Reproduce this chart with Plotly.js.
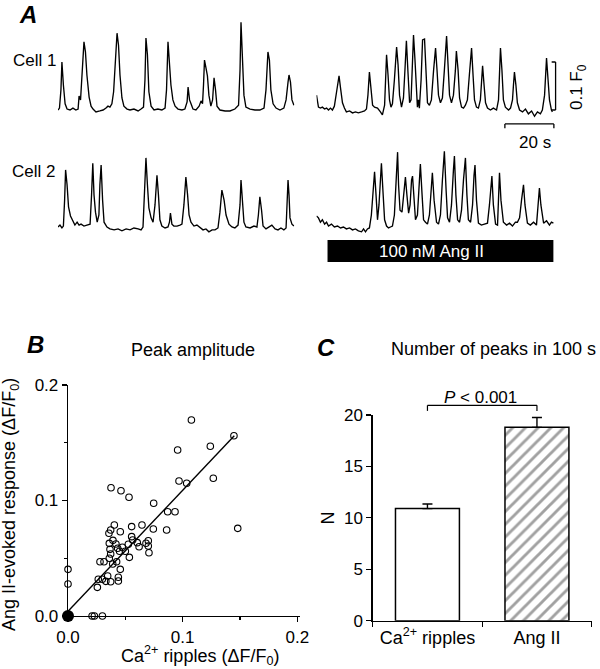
<!DOCTYPE html>
<html><head><meta charset="utf-8">
<script src="https://cdn.plot.ly/plotly-3.0.1.min.js"></script>
<style>html,body{margin:0;padding:0;background:#fff}#chart{width:600px;height:669px}</style>
</head><body><div id="chart"></div>
<script>
// ---------- Panel A: Ca2+ traces (time in s, value in ΔF/F0) ----------
const cell1CtrlT = [0,0.6,1.2,1.6,2.2,2.9,3.7,4.9,6.1,7.3,8.2,8.6,9.2,9.6,10.0,10.6,11.2,11.8,12.7,13.5,14.3,15.5,17.1,18.4,19.6,20.4,21.2,22.0,22.7,23.3,24.1,24.7,25.3,26.1,26.9,28.2,29.4,31.0,32.7,33.9,34.9,35.5,35.9,36.5,37.1,38.0,39.2,40.8,42.4,43.7,44.3,44.9,45.5,46.1,46.9,47.8,49.0,50.6,51.8,52.7,53.1,53.7,54.3,55.1,56.3,57.6,58.4,59.0,59.4,59.8,60.4,61.0,61.6,62.4,63.1,63.7,64.3,64.9,66.1,68.2,70.2,72.2,73.7,74.3,74.7,75.3,75.9,76.7,78.4,80.4,82.4,84.1,84.9,85.7,86.3,86.9,87.8,89.0,90.6,92.2,93.1,93.9,94.3,94.9,95.5,96.3];
const cell1CtrlV = [0,0.004,0.042,0.100,0.052,0.013,0.002,0,0.004,0,0.002,0.029,0.021,0.063,0.083,0.142,0.121,0.073,0.027,0.008,0.002,-0.004,-0.002,0,0.004,0.008,0.006,0.013,0.038,0.083,0.160,0.135,0.073,0.025,0.008,0.002,0,0.002,-0.002,0.002,0.006,0.063,0.150,0.115,0.038,0.008,0,0.002,0,0.004,0.042,0.142,0.104,0.052,0.021,0.008,0.002,0,0.002,0.017,0.048,0.021,0.013,0.002,0,0.008,0.019,0.013,0.052,0.104,0.088,0.071,0.031,0.008,0.021,0.067,0.042,0.008,0,-0.002,-0.002,0.002,0.010,0.083,0.183,0.115,0.031,0.006,0.002,0,0,0.004,0.042,0.121,0.104,0.042,0.013,0.004,0,0.004,0.021,0.058,0.073,0.058,0.021,0.010];

const cell1AngT = [0,0.4,0.8,1.6,2.4,3.3,4.1,4.9,5.7,6.5,7.3,8.2,8.8,9.2,9.8,10.6,11.4,12.2,13.5,14.7,15.9,17.1,18.4,19.6,20.4,21.0,21.6,22.2,22.9,23.7,24.9,26.1,26.9,27.8,28.2,28.6,29.2,29.8,30.4,31.0,31.8,32.2,32.7,33.3,33.9,34.7,35.5,36.1,36.7,37.3,38.0,38.6,39.2,39.6,40.2,40.8,41.2,41.6,42.0,42.7,43.3,44.1,44.5,45.3,46.1,46.9,47.8,48.6,49.2,49.8,50.6,51.4,52.2,53.1,53.7,54.3,55.1,55.9,56.7,57.1,57.8,58.4,59.2,60.0,60.8,61.6,62.4,63.3,63.9,64.5,65.3,66.1,66.9,67.3,67.8,68.4,69.0,69.8,71.0,72.2,73.5,74.3,74.7,75.1,75.7,76.3,77.1,78.4,79.2,80.0,80.4,80.8,81.4,82.0,82.9,84.1,85.3,86.5,87.8,89.0,90.2,91.4,92.2,93.1,93.9,94.5,95.1,95.9,96.3];
const cell1AngV = [0.031,0.021,0.006,0.004,0.006,0.002,0.004,0,0.004,0,0.008,0.038,0.063,0.071,0.046,0.015,0.004,-0.004,-0.002,-0.006,-0.004,-0.006,-0.004,-0.002,0.002,0.031,0.079,0.046,0.010,0.006,0.004,-0.004,-0.010,0.010,0.063,0.115,0.073,0.021,0.006,0.013,0.063,0.104,0.131,0.094,0.031,0.006,0.025,0.083,0.144,0.083,0.015,0.021,0.104,0.156,0.104,0.031,0.006,0.021,0.004,0.063,0.146,0.148,0.104,0.015,0.010,0.021,0.083,0.129,0.083,0.031,0.015,0.025,0.083,0.154,0.094,0.031,0.015,0.031,0.083,0.123,0.083,0.025,0.006,0.004,0.010,0.021,0.073,0.129,0.073,0.021,0.006,0.004,0.021,0.063,0.092,0.052,0.015,0.004,0,0.004,0,0.021,0.073,0.129,0.083,0.021,0.006,0,0.004,0.021,0.052,0.079,0.052,0.015,0,-0.004,0.002,-0.008,-0.002,-0.013,-0.004,-0.008,0,0.031,0.108,0.073,0.021,0,-0.004];

const cell2CtrlT = [0,0.8,1.6,2.2,2.7,3.1,3.7,4.3,5.1,5.9,6.9,7.8,8.6,9.4,10.6,11.8,13.1,13.7,14.2,14.7,15.3,16.0,16.7,17.1,17.6,18.2,18.8,20.0,21.2,22.9,24.5,26.1,27.8,29.4,31.0,32.7,33.9,34.7,35.3,35.9,36.5,37.1,38.0,38.8,39.6,40.4,41.0,41.6,42.4,43.7,44.9,45.5,45.9,46.5,47.3,48.6,49.8,50.6,51.4,52.2,52.9,53.5,54.3,55.5,56.7,58.0,59.2,60.4,61.6,62.9,64.1,65.3,66.1,66.9,67.8,68.6,69.8,71.0,72.2,73.5,74.3,74.7,75.3,75.9,76.7,78.4,80.0,81.2,81.8,82.4,83.1,83.7,84.9,86.1,87.3,88.6,89.8,91.0,92.2,93.1,93.5,93.9,94.3,94.7,95.5,96.3];
const cell2CtrlV = [0,0.004,-0.002,0.002,0.056,0.119,0.088,0.042,0.023,0.013,0.004,0.010,0.004,0.006,0.002,0.004,0.006,0.067,0.133,0.067,0.031,0.010,0.025,0.088,0.129,0.056,0.010,0,-0.004,-0.006,-0.004,-0.008,-0.004,-0.006,-0.002,-0.004,-0.006,0,0.077,0.144,0.088,0.040,0.019,0.010,0.046,0.108,0.067,0.015,0.002,-0.002,0,0.010,0.029,0.006,0.002,0.002,0.004,0.006,0.046,0.104,0.067,0.025,0.010,0.002,0.004,-0.002,-0.006,-0.004,-0.010,-0.006,-0.006,-0.002,0.031,0.077,0.056,0.025,0.006,0,-0.002,0.004,0.046,0.098,0.046,0.010,0,-0.002,0.002,0,0.025,0.063,0.035,0.002,-0.004,0,0.004,-0.004,-0.006,-0.002,-0.006,-0.002,0.046,0.098,0.067,0.019,0.006,0.002];

const cell2AngT = [0,0.8,1.6,2.4,3.3,4.1,4.9,6.1,7.3,8.6,9.8,11.0,12.2,13.5,14.7,15.9,17.1,18.4,19.2,20.0,20.8,21.6,22.4,23.1,23.7,24.3,24.9,25.5,26.1,26.5,27.1,27.8,28.6,29.4,30.2,31.0,31.8,32.7,33.1,33.5,34.1,34.9,35.7,36.3,36.9,37.6,38.2,38.8,39.2,39.8,40.4,41.2,41.8,42.4,43.1,43.7,44.5,45.3,46.1,46.9,47.3,48.0,49.0,49.8,50.6,51.4,52.2,52.9,53.5,54.3,55.1,55.9,56.3,56.9,57.6,58.4,59.2,60.0,60.8,61.4,62.0,62.9,63.7,64.3,64.7,65.3,66.1,67.3,68.6,69.8,70.6,71.2,71.6,72.2,73.1,73.9,74.3,74.7,75.3,76.3,77.6,78.8,80.0,81.2,82.0,82.9,83.7,84.5,85.1,86.1,87.3,88.6,89.8,90.6,91.0,91.6,92.7,93.9,95.1,95.9,96.7];
const cell2AngV = [0.023,0.019,0.010,0.015,0.006,0.010,0.002,0.006,0,0.002,-0.002,0,-0.004,-0.002,-0.006,-0.004,-0.008,-0.010,-0.004,-0.010,-0.004,-0.002,0.025,0.077,0.115,0.067,0.015,0.046,0.108,0.133,0.077,0.015,0.002,-0.002,0,0.002,0.025,0.108,0.156,0.088,0.035,0.031,0.077,0.104,0.067,0.029,0.046,0.098,0.106,0.056,0.015,0.025,0.088,0.131,0.067,0.015,0.010,0.006,0.025,0.088,0.113,0.056,0.010,0.006,0.025,0.098,0.158,0.077,0.019,0.010,0.046,0.119,0.148,0.067,0.015,0.010,0.035,0.098,0.144,0.067,0.015,0.010,0.046,0.108,0.129,0.056,0.008,0.004,0.006,0.008,0.046,0.094,0.106,0.046,0.006,0.004,0.056,0.113,0.056,0.010,0.004,0.008,0.002,0.010,0.010,0.019,0.056,0.088,0.046,0.008,0.004,0.010,0.004,0.046,0.081,0.046,0.008,0.013,0.004,0.010,0.008];

const angIIOnOff = [4.5, 96.7];          // s, application of 100 nM Ang II
const scaleBarAmp = 0.1;                // ΔF/F0
const scaleBarTime = 20;                // s

// ---------- Panel B: peak amplitude scatter ----------
const rippleAmp = [0.1076,0.1447,0.0956,0.1241,0.0968,0.1035,0.1267,0.0375,0.0462,0.0532,0.0747,0.0869,0.0933,0.0860,0.148,
  0.0404,0.0372,0.0357,0.0456,0.0555,0.0645,0.0744,0.0555,0.070,0.070,0.0706,0.0604,0.0564,0.0526,0.0474,0.0433,0.0418,0.036,0.0366,0.0372,
  0.039,0.036,0.0424,0.0314,0.0279,0.0535,0.0456,0.0346,0.0439,0.0439,0.0372,0.0299,0.0264,0.0256,0,0,0.021,0.023,0.030,
  0.0392,0.050,0.062,0.068,0.045,0.033];
const angAmp = [0.1697,0.156,0.1437,0.147,0.1169,0.1149,0.1192,0.1111,0.1085,0.1028,0.0976,0.0903,0.0903,0.0745,0.0759,
  0.0788,0.0745,0.0716,0.073,0.0774,0.0788,0.0753,0.0687,0.0652,0.0606,0.0548,0.0635,0.0658,0.0621,0.0595,0.0586,0.0623,0.0629,0.0577,0.0537,
  0.045,0.050,0.047,0.047,0.047,0.0508,0.0404,0.0346,0.0335,0.0303,0.0297,0.0318,0.0318,0.0248,0.0404,0.0277,0,0,0,
  0.0655,0.056,0.060,0.063,0.056,0.030];
const originX = [0], originY = [0];
const fitX = [0, 0.145], fitY = [0.004, 0.156];

// ---------- Panel C: number of peaks ----------
const categories = ['Ca<sup>2+</sup> ripples', 'Ang II'];
const peakCounts = [10.9, 18.8];
const peakSEM = [0.45, 0.95];
const pLabel = '<i>P</i> &lt; 0.001';

// ---------- layout helpers (pixel geometry -> paper) ----------
const W = 600, H = 669;
const px = x => x / W, py = y => 1 - y / H;
const FONT = 'Liberation Sans, Arial, Helvetica, sans-serif';
const blk = 'black';

const axA1x = {domain:[px(58), px(294.4)], range:[0, 96.5]};
const axA2x = {domain:[px(316.5), px(560)], range:[0, 99.4]};
const axRow1y = {domain:[py(129.5), py(14)], range:[-0.0406, 0.2]};
const axRow2y = {domain:[py(238), py(132)], range:[-0.0229, 0.198]};
function toPaper(ax, v){ return ax.domain[0] + (v - ax.range[0])/(ax.range[1]-ax.range[0])*(ax.domain[1]-ax.domain[0]); }
const hid = (a, anchor) => Object.assign({visible:false, showgrid:false, zeroline:false, fixedrange:true, anchor}, a);

const axBx = {domain:[px(68), px(300)], range:[0, 0.2023]};
const axBy = {domain:[py(616), py(385)], range:[0, 0.2]};
const axCx = {domain:[px(372.7), px(591.7)], range:[-0.5, 1.5]};
const axCy = {domain:[py(620.7), py(415)], range:[0, 20]};

const lineTr = (x, y, xa, ya) => ({x, y, xaxis:xa, yaxis:ya, type:'scatter', mode:'lines', line:{color:blk, width:1.35}, hoverinfo:'skip'});

const data = [
  lineTr(cell1CtrlT, cell1CtrlV, 'x', 'y'),
  lineTr(cell1AngT, cell1AngV, 'x2', 'y2'),
  lineTr(cell2CtrlT, cell2CtrlV, 'x3', 'y3'),
  lineTr(cell2AngT, cell2AngV, 'x4', 'y4'),
  {x:fitX, y:fitY, xaxis:'x5', yaxis:'y5', type:'scatter', mode:'lines', line:{color:blk, width:1.4}},
  {x:rippleAmp, y:angAmp, xaxis:'x5', yaxis:'y5', type:'scatter', mode:'markers', cliponaxis:false,
   marker:{symbol:'circle-open', size:6.5, color:blk, line:{width:1.1, color:blk}}},
  {x:originX, y:originY, xaxis:'x5', yaxis:'y5', type:'scatter', mode:'markers', cliponaxis:false,
   marker:{symbol:'circle', size:12, color:blk}},
  {x:categories, y:peakCounts, xaxis:'x6', yaxis:'y6', type:'bar', width:0.584,
   marker:{color:['white','white'], line:{color:blk, width:1.5},
     pattern:{shape:['', '/'], size:9, solidity:0.32, fgcolor:blk, fillmode:'overlay'}},
   error_y:{type:'data', symmetric:false, array:peakSEM, arrayminus:[0,0], color:blk, thickness:1.4, width:5}}
];

const tickAx = {showline:true, linecolor:blk, linewidth:1.3, ticks:'outside', ticklen:5, tickwidth:1.3, tickcolor:blk,
  showgrid:false, zeroline:false, fixedrange:true, tickfont:{family:FONT, size:17, color:blk}};

const layout = {
  width:W, height:H, margin:{l:0, r:0, t:0, b:0}, paper_bgcolor:'white', plot_bgcolor:'rgba(0,0,0,0)',
  showlegend:false, font:{family:FONT, color:blk},
  xaxis: hid(axA1x, 'y'), yaxis: hid(axRow1y, 'x'),
  xaxis2: hid(axA2x, 'y2'), yaxis2: hid(axRow1y, 'x2'),
  xaxis3: hid(axA1x, 'y3'), yaxis3: hid(axRow2y, 'x3'),
  xaxis4: hid(axA2x, 'y4'), yaxis4: hid(axRow2y, 'x4'),
  xaxis5: Object.assign({}, tickAx, axBx, {anchor:'y5', tickvals:[0,0.1,0.2], ticktext:['0.0','0.1','0.2'],
    minor:{tickvals:[0.05,0.15], ticks:'outside', ticklen:3, tickwidth:1.2, tickcolor:blk}}),
  yaxis5: Object.assign({}, tickAx, axBy, {anchor:'x5', tickvals:[0,0.1,0.2], ticktext:['0.0','0.1','0.2'],
    minor:{tickvals:[0.05,0.15], ticks:'outside', ticklen:3, tickwidth:1.2, tickcolor:blk}}),
  xaxis6: Object.assign({}, tickAx, axCx, {anchor:'y6', type:'category', tickson:'boundaries', tickfont:{family:FONT, size:18, color:blk}}),
  yaxis6: Object.assign({}, tickAx, axCy, {anchor:'x6', tickvals:[0,5,10,15,20]}),
  shapes: [],
  annotations: []
};

// scale bars (data units of the upper-right trace)
const sbX = 97.6, sbY0 = 0, hbY = -0.029, hbX1 = 96.9, hbX0 = hbX1 - scaleBarTime;
const L = (x0,y0,x1,y1,xref,yref,w) => ({type:'line', x0,y0,x1,y1, xref, yref, line:{color:blk, width:w||1.3}});
layout.shapes.push(
  L(sbX, sbY0, sbX, sbY0 + scaleBarAmp, 'x2', 'y2'),
  L(sbX-1.6, sbY0, sbX, sbY0, 'x2', 'y2'),
  L(sbX-1.6, sbY0+scaleBarAmp, sbX, sbY0+scaleBarAmp, 'x2', 'y2'),
  L(hbX0, hbY, hbX1, hbY, 'x2', 'y2'),
  L(hbX0, hbY, hbX0, hbY-0.009, 'x2', 'y2'),
  L(hbX1, hbY, hbX1, hbY-0.009, 'x2', 'y2')
);
// Ang II application bar
layout.shapes.push({type:'rect', xref:'paper', yref:'paper',
  x0: toPaper(axA2x, angIIOnOff[0]), x1: toPaper(axA2x, angIIOnOff[1]), y0: py(262), y1: py(240),
  fillcolor:blk, line:{width:0}});
// significance bracket over bars (category centres 0 and 1)
const brY = 20.94, brTick = 20.4;
const bx0 = toPaper(axCx, 0), bx1 = toPaper(axCx, 1);
layout.shapes.push(
  L(bx0, toPaper(axCy, brY), bx1, toPaper(axCy, brY), 'paper', 'paper', 1.2),
  L(bx0, toPaper(axCy, brY), bx0, toPaper(axCy, brTick), 'paper', 'paper', 1.2),
  L(bx1, toPaper(axCy, brY), bx1, toPaper(axCy, brTick), 'paper', 'paper', 1.2)
);

const A = (text, x, y, size, extra) => Object.assign({text, x:px(x), y:py(y), xref:'paper', yref:'paper', showarrow:false,
  xanchor:'center', yanchor:'middle', font:{family:FONT, size, color:blk}}, extra||{});
layout.annotations.push(
  A('<b><i>A</i></b>', 28, 15, 24),
  A('Cell 1', 11, 60, 17, {xanchor:'left'}),
  A('Cell 2', 10, 171, 17, {xanchor:'left'}),
  A('0.1 F<sub>0</sub>', 578, 87, 17, {textangle:-90}),
  A('20 s', 535, 142, 17),
  A('100 nM Ang II', 431, 251, 17, {font:{family:FONT, size:17, color:'white'}}),
  A('<b><i>B</i></b>', 35, 344, 24),
  A('Peak amplitude', 192.5, 350, 18),
  A('Ca<sup>2+</sup> ripples (ΔF/F<sub>0</sub>)', 200, 655, 18),
  A('Ang II-evoked response (ΔF/F<sub>0</sub>)', 10, 505, 18, {textangle:-90}),
  A('<b><i>C</i></b>', 326, 348, 24),
  A('Number of peaks in 100 s', 493, 349, 18),
  A(pLabel, 480, 397, 17),
  A('N', 327.5, 518, 18, {textangle:-90})
);

Plotly.newPlot('chart', data, layout, {staticPlot:true, displayModeBar:false});
</script></body></html>
